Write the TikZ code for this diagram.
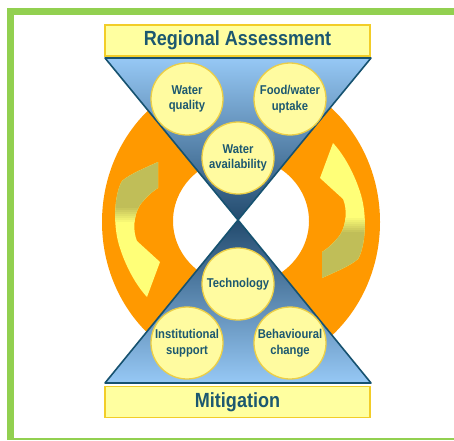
\documentclass[tikz,border=0pt]{standalone}
\usepackage{fontspec}
\setmainfont{Liberation Sans}
\newfontfamily\diagfont[FakeStretch=0.88]{Liberation Sans}

\definecolor{framegreen}{RGB}{146,208,80}
\definecolor{ringorange}{RGB}{255,153,0}
\definecolor{inkteal}{RGB}{28,88,112}
\definecolor{bannfill}{RGB}{255,255,160}
\definecolor{bannedge}{RGB}{242,205,40}
\definecolor{circfill}{RGB}{255,251,160}
\definecolor{circedge}{RGB}{236,206,70}
\definecolor{triedge}{RGB}{22,82,112}
\definecolor{trilight}{RGB}{150,200,245}
\definecolor{trimid}{RGB}{110,160,210}
\definecolor{tridark}{RGB}{35,75,110}
\definecolor{arrowolive}{RGB}{192,190,88}
\definecolor{arrowyellow}{RGB}{255,255,120}

% outline of the curved cycle arrow on the left side of the ring
\newcommand\cyclearrow{(158,162) .. controls (145,168) and (130,174) .. (122,181)
  .. controls (114,195) and (113,225) .. (119,245)
  .. controls (124,262) and (134,283) .. (147,297)
  -- (160,262) -- (137,241)
  .. controls (133,232) and (133,216) .. (140,205)
  .. controls (146,197) and (153,191) .. (158,188) -- cycle}

% fill of one arrow: olive tail blending into a yellow head
\newcommand\fillcyclearrow{%
  \begin{scope}
    \clip \cyclearrow;
    \fill[arrowyellow] (95,150) rectangle (175,310);
    \fill[arrowolive] (95,150) rectangle (175,206);
    \foreach \i in {0,...,7}{
      \pgfmathsetmacro\pct{100-12.5*\i}
      \fill[arrowolive!\pct!arrowyellow] (95,{206+2*\i}) rectangle (175,{208.2+2*\i});
    }
  \end{scope}}

\begin{document}
\begin{tikzpicture}[x=1pt,y=-1pt,
  txt/.style={text=inkteal, font=\diagfont\bfseries\fontsize{12.8}{15.5}\selectfont, align=center},
  topic/.style={circle, draw=circedge, line width=1.3pt, fill=circfill,
    minimum size=72pt, inner sep=0pt, txt},
  banner/.style={draw=bannedge, line width=1.5pt, fill=bannfill,
    minimum width=265pt, minimum height=31pt, inner sep=0pt, text=inkteal,
    font=\diagfont\bfseries\fontsize{20.5}{24}\selectfont},
  tri/.style={draw=triedge, line width=1.6pt, line join=round}]

  % canvas
  \fill[white] (0,0) rectangle (454,440);
  \useasboundingbox (0,0) rectangle (454,440);

  % green frame (top, left, bottom)
  \fill[framegreen] (7,8) rectangle (454,15);
  \fill[framegreen] (7,8) rectangle (14,440);
  \fill[framegreen] (7,437.5) rectangle (454,439.5);

  % orange cycle ring
  \fill[ringorange, even odd rule]
    (241,222) ellipse [x radius=139, y radius=150]
    (241,221) ellipse [x radius=68, y radius=64];

  % cycle arrows: left one downwards, right one upwards
  \fillcyclearrow
  \begin{scope}[rotate around={180:(240,220)}]
    \fillcyclearrow
  \end{scope}

  % assessment triangle (pointing down) and mitigation triangle (pointing up)
  \shade[top color=trilight, middle color=trimid, bottom color=tridark]
    (105,58) -- (371,58) -- (238,220) -- cycle;
  \draw[tri] (105,58) -- (371,58) -- (238,220) -- cycle;
  \shade[top color=tridark, middle color=trimid, bottom color=trilight]
    (238,220) -- (105,383) -- (371,383) -- cycle;
  \draw[tri] (238,220) -- (105,383) -- (371,383) -- cycle;

  % banners
  \node[banner] (assess) at (237.5,40.5) {Regional Assessment};
  \node[banner] (mitig) at (237.5,402) {Mitigation};

  % topics
  \node[topic] (wq) at (187,99) {Water\\quality};
  \node[topic] (fw) at (290,99) {Food/water\\uptake};
  \node[topic] (wa) at (238,158) {Water\\availability};
  \node[topic] (tech) at (238,284) {Technology};
  \node[topic] (inst) at (187,343) {Institutional\\support};
  \node[topic] (behav) at (290,343) {Behavioural\\change};
\end{tikzpicture}
\end{document}
